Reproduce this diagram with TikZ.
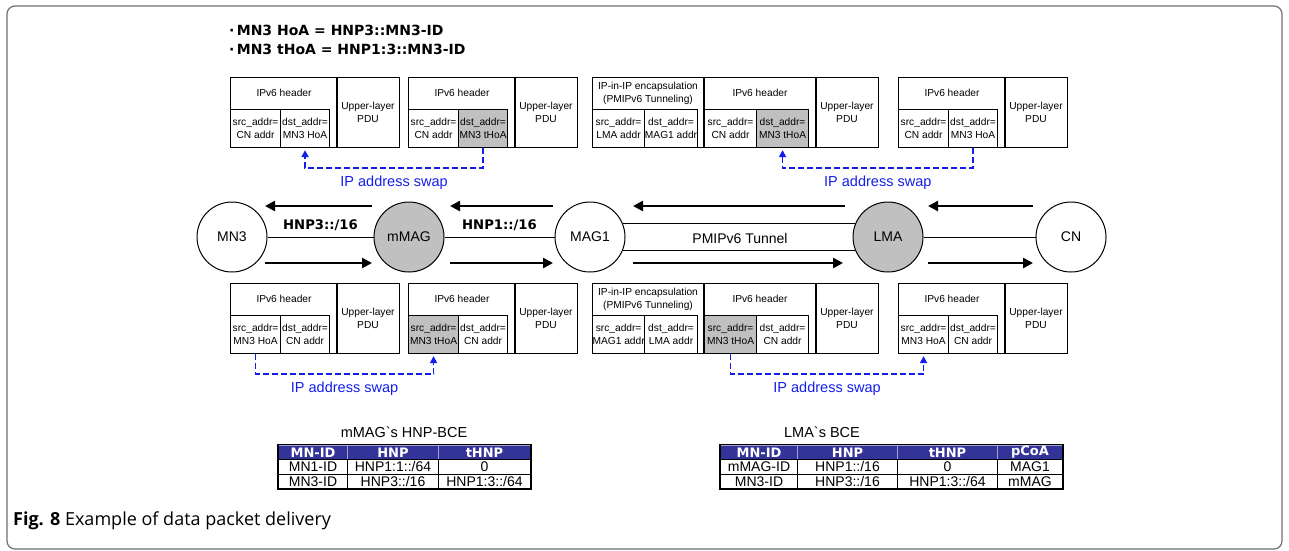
\documentclass[tikz,border=0pt]{standalone}
\usepackage{fontspec}
\setmainfont{Liberation Sans}[Ligatures=TeXOff]
\newfontfamily\vfont{DejaVu Sans}
\newfontfamily\capfont{Open Sans}
\usetikzlibrary{arrows.meta,calc}

\definecolor{hdrblue}{RGB}{51,51,153}
\definecolor{swapblue}{RGB}{20,30,235}
\definecolor{shade}{RGB}{192,192,192}
\definecolor{framegray}{RGB}{110,110,110}

\tikzset{
  box/.style={draw, line width=1.1pt, inner sep=0pt, anchor=north west},
  cell/.style={box, minimum height=38, align=center, font=\fontsize{10.2}{13}\selectfont},
  lbl/.style={align=center, inner sep=0pt, font=\fontsize{10.2}{13}\selectfont},
  hl/.style={fill=shade},
  router/.style={circle, draw, line width=1pt, minimum size=70, inner sep=0pt,
                 font=\fontsize{14}{16}\selectfont},
  flow/.style={line width=2.5pt, -{Triangle[length=10pt,width=10pt]}},
  swap/.style={swapblue, line width=1.8pt, dash pattern=on 6pt off 3pt,
               shorten >=2pt, -{Triangle[length=7pt,width=7pt]}},
  swaplbl/.style={swapblue, font=\fontsize{14.5}{16}\selectfont, below, inner sep=3pt,
                  yshift=-4pt},
  linklbl/.style={font=\vfont\bfseries\fontsize{13.2}{15}\selectfont, inner sep=0pt},
  tcell/.style={draw, line width=1pt, anchor=north west, inner sep=0pt,
                minimum height=14.5, font=\fontsize{14}{14}\selectfont},
  hcell/.style={tcell, fill=hdrblue, text=white, draw=hdrblue!45!white,
                font=\vfont\bfseries\fontsize{13}{14}\selectfont},
  note/.style={anchor=west, inner sep=0pt, font=\vfont\bfseries\fontsize{14}{16}\selectfont},
}

% plain IPv6 packet: name, x, y, src text, dst text, src style, dst style
\newcommand\stdpacket[7]{%
  \node[box, minimum width=169, minimum height=70] (#1) at (#2,#3) {};
  \draw[line width=1.1pt] ({#2+107},{#3}) -- ({#2+107},{#3+70});
  \node[lbl] (#1-h) at ({#2+54},{#3+16}) {IPv6 header};
  \node[cell, minimum width=50, #6] (#1-s) at ({#2},{#3+32}) {#4};
  \node[cell, minimum width=49, #7] (#1-d) at ({#2+50},{#3+32}) {#5};
  \node[lbl] (#1-u) at ({#2+138},{#3+35}) {Upper-layer\\PDU};
}

% tunnelled packet: name, x, y, outer src, outer dst, inner src, inner dst,
% inner src style, inner dst style
\newcommand\tunpacket[9]{%
  \node[box, minimum width=286, minimum height=70] (#1) at (#2,#3) {};
  \draw[line width=1.1pt] ({#2+112},{#3}) -- ({#2+112},{#3+70});
  \draw[line width=1.1pt] ({#2+224},{#3}) -- ({#2+224},{#3+70});
  \node[lbl] (#1-e) at ({#2+56},{#3+16}) {IP-in-IP encapsulation\\(PMIPv6 Tunneling)};
  \node[cell, minimum width=52] (#1-es) at ({#2},{#3+32}) {#4};
  \node[cell, minimum width=53] (#1-ed) at ({#2+52},{#3+32}) {#5};
  \node[lbl] (#1-h) at ({#2+168},{#3+16}) {IPv6 header};
  \node[cell, minimum width=52, #8] (#1-s) at ({#2+112},{#3+32}) {#6};
  \node[cell, minimum width=52, #9] (#1-d) at ({#2+164},{#3+32}) {#7};
  \node[lbl] (#1-u) at ({#2+255},{#3+35}) {Upper-layer\\PDU};
}

\begin{document}
\begin{tikzpicture}[x=1pt,y=-1pt]
\useasboundingbox (0,0) rectangle (1289,550);

% figure frame
\draw[framegray, line width=1.2pt, rounded corners=8pt] (7,6) rectangle (1282,549);

% address notes
\node[note] (note1) at (229,30) {·\,MN3 HoA = HNP3::MN3-ID};
\node[note] (note2) at (229,49) {·\,MN3 tHoA = HNP1:3::MN3-ID};

% downlink packets (CN -> MN3)
\stdpacket{p1}{230}{77}{src\_addr=\\CN addr}{dst\_addr=\\MN3 HoA}{}{}
\stdpacket{p2}{408}{77}{src\_addr=\\CN addr}{dst\_addr=\\MN3 tHoA}{}{hl}
\tunpacket{p3}{592}{77}{src\_addr=\\LMA addr}{dst\_addr=\\MAG1 addr}%
  {src\_addr=\\CN addr}{dst\_addr=\\MN3 tHoA}{}{hl}
\stdpacket{p4}{898}{77}{src\_addr=\\CN addr}{dst\_addr=\\MN3 HoA}{}{}

% uplink packets (MN3 -> CN)
\stdpacket{q1}{230}{283}{src\_addr=\\MN3 HoA}{dst\_addr=\\CN addr}{}{}
\stdpacket{q2}{408}{283}{src\_addr=\\MN3 tHoA}{dst\_addr=\\CN addr}{hl}{}
\tunpacket{q3}{592}{283}{src\_addr=\\MAG1 addr}{dst\_addr=\\LMA addr}%
  {src\_addr=\\MN3 tHoA}{dst\_addr=\\CN addr}{hl}{}
\stdpacket{q4}{898}{283}{src\_addr=\\MN3 HoA}{dst\_addr=\\CN addr}{}{}

% address swaps
\draw[swap] (p2-d.south) -- ++(0,20) -| node[pos=0.25, swaplbl] (sw1) {IP address swap} (p1-d.south);
\draw[swap] (p4-d.south) -- ++(0,20) -| node[pos=0.25, swaplbl] (sw2) {IP address swap} (p3-d.south);
\draw[swap] (q1-s.south) -- ++(0,20) -| node[pos=0.25, swaplbl] (sw3) {IP address swap} (q2-s.south);
\draw[swap] (q3-s.south) -- ++(0,20) -| node[pos=0.25, swaplbl] (sw4) {IP address swap} (q4-s.south);

% network entities
\node[router] (mn3)  at (232,237) {MN3};
\node[router, fill=shade] (mmag) at (409,237) {mMAG};
\node[router] (mag1) at (590,237) {MAG1};
\node[router, fill=shade] (lma)  at (888,237) {LMA};
\node[router] (cn)   at (1071,237) {CN};

% links
\draw[line width=0.9pt] (mn3) -- node[linklbl, above=6pt] (l1) {HNP3::/16} (mmag);
\draw[line width=0.9pt] (mmag) -- node[linklbl, above=6pt] (l2) {HNP1::/16} (mag1);
\draw[line width=0.9pt] (mag1.22) -- (lma.158);
\draw[line width=0.9pt] (mag1.-22) -- (lma.-158);
\node[font=\fontsize{14}{16}\selectfont] (tun) at (740,238) {PMIPv6 Tunnel};
\draw[line width=0.9pt] (lma) -- (cn);

% traffic direction
\coordinate (a1s) at (372,206); \coordinate (a1e) at (265,206);
\coordinate (a2s) at (265,263); \coordinate (a2e) at (372,263);
\coordinate (b1s) at (553,206); \coordinate (b1e) at (450,206);
\coordinate (b2s) at (450,263); \coordinate (b2e) at (553,263);
\coordinate (c1s) at (845,206); \coordinate (c1e) at (633,206);
\coordinate (c2s) at (633,263); \coordinate (c2e) at (843,263);
\coordinate (d1s) at (1033,206); \coordinate (d1e) at (928,206);
\coordinate (d2s) at (928,263); \coordinate (d2e) at (1033,263);
\foreach \s/\e in {a1s/a1e,a2s/a2e,b1s/b1e,b2s/b2e,c1s/c1e,c2s/c2e,d1s/d1e,d2s/d2e}
  \draw[flow] (\s) -- (\e);

% mMAG binding cache
\node[font=\fontsize{14.5}{16}\selectfont] (t1title) at (404,432) {mMAG\symbol{96}s HNP-BCE};
\node[hcell, minimum width=69] (t1h1) at (278,444.5) {MN-ID};
\node[hcell, minimum width=91] (t1h2) at (347,444.5) {HNP};
\node[hcell, minimum width=92] (t1h3) at (438,444.5) {tHNP};
\node[tcell, minimum width=69] (t1a1) at (278,459) {MN1-ID};
\node[tcell, minimum width=91] (t1a2) at (347,459) {HNP1:1::/64};
\node[tcell, minimum width=92] (t1a3) at (438,459) {0};
\node[tcell, minimum width=69] (t1b1) at (278,473.5) {MN3-ID};
\node[tcell, minimum width=91] (t1b2) at (347,473.5) {HNP3::/16};
\node[tcell, minimum width=92] (t1b3) at (438,473.5) {HNP1:3::/64};
\draw[line width=1.6pt] (t1h1.north west) rectangle (t1b3.south east);

% LMA binding cache
\node[font=\fontsize{14.5}{16}\selectfont] (t2title) at (822,432) {LMA\symbol{96}s BCE};
\node[hcell, minimum width=77]  (t2h1) at (720,444.5) {MN-ID};
\node[hcell, minimum width=100] (t2h2) at (797,444.5) {HNP};
\node[hcell, minimum width=100] (t2h3) at (897,444.5) {tHNP};
\node[hcell, minimum width=65]  (t2h4) at (997,444.5) {pCoA};
\node[tcell, minimum width=77]  (t2a1) at (720,459) {mMAG-ID};
\node[tcell, minimum width=100] (t2a2) at (797,459) {HNP1::/16};
\node[tcell, minimum width=100] (t2a3) at (897,459) {0};
\node[tcell, minimum width=65]  (t2a4) at (997,459) {MAG1};
\node[tcell, minimum width=77]  (t2b1) at (720,473.5) {MN3-ID};
\node[tcell, minimum width=100] (t2b2) at (797,473.5) {HNP3::/16};
\node[tcell, minimum width=100] (t2b3) at (897,473.5) {HNP1:3::/64};
\node[tcell, minimum width=65]  (t2b4) at (997,473.5) {mMAG};
\draw[line width=1.6pt] (t2h1.north west) rectangle (t2b4.south east);

% caption
\node[anchor=west, inner sep=0pt, font=\capfont\fontsize{18}{20}\selectfont]
  (cap) at (13,521) {\textbf{Fig. 8} Example of data packet delivery};
\end{tikzpicture}
\end{document}
